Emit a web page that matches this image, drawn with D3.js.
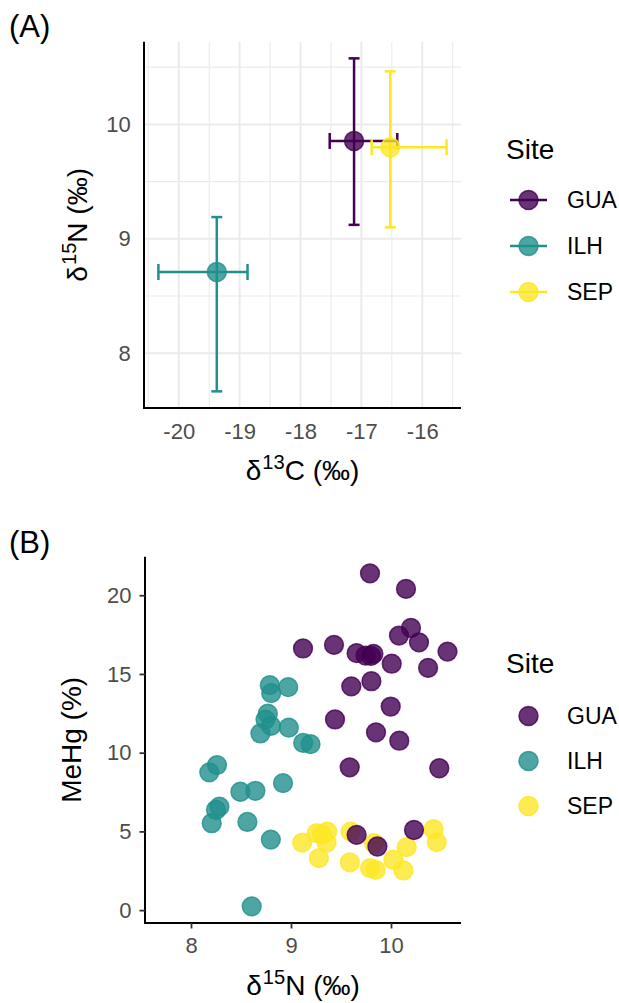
<!DOCTYPE html>
<html><head><meta charset="utf-8">
<script src="https://cdn.jsdelivr.net/npm/d3@7"></script>
<style>body{margin:0;background:#fff}svg{display:block;font-family:"Liberation Sans",Arial,sans-serif}</style>
</head><body><svg id="c" width="619" height="1003"></svg>
<script>
// ---------- DATA ----------
const sites = ["GUA", "ILH", "SEP"];
const siteColors = ["#440154", "#21908C", "#FDE725"];

// Panel A: site means with error extents
const meanC = [-17.12, -19.375, -16.525];
const meanN = [9.855, 8.71, 9.80];
const cMin = [-17.52, -20.334, -16.83];
const cMax = [-16.41, -18.87, -15.60];
const nMin = [9.122, 7.667, 9.10];
const nMax = [10.577, 9.19, 10.463];
const xTicksA = [-20, -19, -18, -17, -16];
const yTicksA = [8, 9, 10];

// Panel B: individual samples (δ15N, MeHg %)
const guaN  = [9.79, 10.15, 10.20, 10.08, 10.28, 9.12, 9.43, 10.565, 9.656, 9.746, 9.80, 9.824, 10.007, 10.371, 9.804, 9.603, 9.997, 9.44, 9.85, 10.083, 9.587, 10.483, 10.23, 9.656, 9.864];
const guaHg = [21.39, 20.40, 17.92, 17.44, 17.01, 16.62, 16.85, 16.42, 16.32, 16.17, 16.15, 16.28, 15.65, 15.39, 14.54, 14.21, 12.93, 12.11, 11.29, 10.76, 9.07, 9.01, 5.09, 4.78, 4.04];
const ilhN  = [8.788, 8.802, 8.972, 8.768, 8.745, 8.80, 8.694, 8.978, 9.122, 9.195, 8.26, 8.183, 8.494, 8.644, 8.92, 8.284, 8.25, 8.207, 8.564, 8.798, 8.607];
const ilhHg = [14.29, 13.78, 14.16, 12.48, 12.10, 11.70, 11.22, 11.59, 10.62, 10.54, 9.21, 8.75, 7.52, 7.58, 8.07, 6.57, 6.36, 5.52, 5.60, 4.48, 0.24];
const sepN  = [9.112, 9.256, 9.31, 9.363, 9.356, 9.279, 9.596, 9.589, 9.83, 9.79, 9.847, 10.024, 10.157, 10.124, 10.425, 10.458];
const sepHg = [4.29, 4.89, 4.80, 4.99, 4.29, 3.30, 4.99, 3.03, 4.25, 2.67, 2.56, 3.20, 4.00, 2.52, 5.14, 4.32];
const xLimB = [7.54, 10.70];
const xTicksB = [8, 9, 10];
const yTicksB = [0, 5, 10, 15, 20];

// ---------- DRAW ----------
const svg = d3.select("#c");
const FONT_TICK = 22, FONT_TITLE = 28;
const tickCol = "#4D4D4D";

function expand(ext, f = 0.05) { const d = (ext[1] - ext[0]) * f; return [ext[0] - d, ext[1] + d]; }

function supTitle(g, x, y, pre, sup, post, rotate) {
  const t = g.append("text").attr("font-size", FONT_TITLE).attr("fill", "#000")
    .attr("text-anchor", "middle");
  if (rotate) t.attr("transform", `translate(${x},${y}) rotate(-90)`);
  else t.attr("x", x).attr("y", y);
  t.append("tspan").text(pre);
  t.append("tspan").attr("font-size", FONT_TITLE * 0.72).attr("dy", -11.5).attr("dx", 1).text(sup);
  t.append("tspan").attr("dy", 11.5).text(post);
  return t;
}

// ===== Panel A =====
const A = { l: 144, r: 461, t: 41.7, b: 408 };
const xA = d3.scaleLinear().domain(expand([d3.min(cMin), d3.max(cMax)])).range([A.l, A.r]);
const yA = d3.scaleLinear().domain(expand([d3.min(nMin), d3.max(nMax)])).range([A.b, A.t]);
const gA = svg.append("g");

// grid
const xMinor = d3.range(-20.5, -15.4, 0.5).filter(v => !xTicksA.includes(v));
const yMinor = d3.range(7.5, 10.6, 0.5).filter(v => !yTicksA.includes(v) && yA(v) <= A.b && yA(v) >= A.t);
gA.selectAll(".vmin").data(xMinor).join("line").attr("x1", d => xA(d)).attr("x2", d => xA(d))
  .attr("y1", A.t).attr("y2", A.b).attr("stroke", "#EBEBEB").attr("stroke-width", 1.1);
gA.selectAll(".hmin").data(yMinor).join("line").attr("y1", d => yA(d)).attr("y2", d => yA(d))
  .attr("x1", A.l).attr("x2", A.r).attr("stroke", "#EBEBEB").attr("stroke-width", 1.1);
gA.selectAll(".vmaj").data(xTicksA).join("line").attr("x1", d => xA(d)).attr("x2", d => xA(d))
  .attr("y1", A.t).attr("y2", A.b).attr("stroke", "#EBEBEB").attr("stroke-width", 2);
gA.selectAll(".hmaj").data(yTicksA).join("line").attr("y1", d => yA(d)).attr("y2", d => yA(d))
  .attr("x1", A.l).attr("x2", A.r).attr("stroke", "#EBEBEB").attr("stroke-width", 2);

// axes (line only, no ticks)
const axAx = gA.append("g").attr("transform", `translate(0,${A.b})`)
  .call(d3.axisBottom(xA).tickValues(xTicksA).tickSize(0).tickPadding(15.5).tickFormat(d3.format("d")));
const axAy = gA.append("g").attr("transform", `translate(${A.l},0)`)
  .call(d3.axisLeft(yA).tickValues(yTicksA).tickSize(0).tickPadding(13.3).tickFormat(d3.format("d")));
[axAx, axAy].forEach(a => {
  a.select(".domain").attr("stroke", "#000").attr("stroke-width", 2);
  a.selectAll("text").attr("font-size", FONT_TICK).attr("fill", tickCol).attr("font-family", "Liberation Sans, Arial, sans-serif");
});
axAx.selectAll("text").text(d => d < 0 ? "-" + Math.abs(d) : d);
axAx.select(".domain").attr("d", `M${A.l - 1},0H${A.r}`);
axAy.select(".domain").attr("d", `M0,${A.t}V${A.b + 1}`);

const idx = [0, 1, 2];
const capW = 5.5, capH = 8;
idx.forEach(i => {
  const c = siteColors[i];
  const g = gA.append("g").attr("stroke", c).attr("stroke-width", 2.5).attr("fill", "none");
  g.append("line").attr("x1", xA(meanC[i])).attr("x2", xA(meanC[i])).attr("y1", yA(nMin[i])).attr("y2", yA(nMax[i]));
  g.append("line").attr("x1", xA(meanC[i]) - capW).attr("x2", xA(meanC[i]) + capW).attr("y1", yA(nMin[i])).attr("y2", yA(nMin[i]));
  g.append("line").attr("x1", xA(meanC[i]) - capW).attr("x2", xA(meanC[i]) + capW).attr("y1", yA(nMax[i])).attr("y2", yA(nMax[i]));
});
idx.forEach(i => {
  const c = siteColors[i];
  const g = gA.append("g").attr("stroke", c).attr("stroke-width", 2.5).attr("fill", "none");
  g.append("line").attr("y1", yA(meanN[i])).attr("y2", yA(meanN[i])).attr("x1", xA(cMin[i])).attr("x2", xA(cMax[i]));
  g.append("line").attr("y1", yA(meanN[i]) - capH).attr("y2", yA(meanN[i]) + capH).attr("x1", xA(cMin[i])).attr("x2", xA(cMin[i]));
  g.append("line").attr("y1", yA(meanN[i]) - capH).attr("y2", yA(meanN[i]) + capH).attr("x1", xA(cMax[i])).attr("x2", xA(cMax[i]));
});
gA.selectAll(".ptA").data(idx).join("circle")
  .attr("cx", i => xA(meanC[i])).attr("cy", i => yA(meanN[i])).attr("r", 9.5)
  .attr("fill", i => siteColors[i]).attr("fill-opacity", 0.8)
  .attr("stroke", i => siteColors[i]).attr("stroke-opacity", 0.8).attr("stroke-width", 1.5);

svg.append("text").attr("x", 9).attr("y", 37).attr("font-size", 31).text("(A)");
supTitle(svg, (A.l + A.r) / 2, 480, "δ", "13", "C (‰)", false);
supTitle(svg, 87, (A.t + A.b) / 2, "δ", "15", "N (‰)", true);

// legend A
const legA = svg.append("g");
legA.append("text").attr("x", 506).attr("y", 159).attr("font-size", 28).text("Site");
const keyYA = [200, 246, 292];
idx.forEach(i => {
  legA.append("line").attr("x1", 510).attr("x2", 547).attr("y1", keyYA[i]).attr("y2", keyYA[i])
    .attr("stroke", siteColors[i]).attr("stroke-width", 2.5);
  legA.append("circle").attr("cx", 528.5).attr("cy", keyYA[i]).attr("r", 9.5)
    .attr("fill", siteColors[i]).attr("fill-opacity", 0.8).attr("stroke", siteColors[i]).attr("stroke-opacity", 0.8).attr("stroke-width", 1.5);
  legA.append("text").attr("x", 567).attr("y", keyYA[i] + 8.3).attr("font-size", 23).text(sites[i]);
});

// ===== Panel B =====
const B = { l: 145, r: 461, t: 556.7, b: 923 };
const allHg = guaHg.concat(ilhHg, sepHg);
const xB = d3.scaleLinear().domain(xLimB).range([B.l, B.r]);
const yB = d3.scaleLinear().domain(expand(d3.extent(allHg))).range([B.b, B.t]);
const gB = svg.append("g");
const axBx = gB.append("g").attr("transform", `translate(0,${B.b})`)
  .call(d3.axisBottom(xB).tickValues(xTicksB).tickSize(5.5).tickPadding(9).tickFormat(d3.format("d")));
const axBy = gB.append("g").attr("transform", `translate(${B.l},0)`)
  .call(d3.axisLeft(yB).tickValues(yTicksB).tickSize(5.5).tickPadding(8).tickFormat(d3.format("d")));
[axBx, axBy].forEach(a => {
  a.select(".domain").attr("stroke", "#000").attr("stroke-width", 2);
  a.selectAll(".tick line").attr("stroke", "#333").attr("stroke-width", 1.8);
  a.selectAll("text").attr("font-size", FONT_TICK).attr("fill", tickCol).attr("font-family", "Liberation Sans, Arial, sans-serif");
});
axBx.select(".domain").attr("d", `M${B.l - 1},0H${B.r}`);
axBy.select(".domain").attr("d", `M0,${B.t}V${B.b + 1}`);

const seriesB = [
  { s: 2, n: sepN, hg: sepHg },
  { s: 1, n: ilhN, hg: ilhHg },
  { s: 0, n: guaN, hg: guaHg }
];
seriesB.forEach(ser => {
  gB.append("g").selectAll("circle").data(ser.n.map((v, k) => [v, ser.hg[k]])).join("circle")
    .attr("cx", d => xB(d[0])).attr("cy", d => yB(d[1])).attr("r", 9.4)
    .attr("fill", siteColors[ser.s]).attr("fill-opacity", 0.8)
    .attr("stroke", siteColors[ser.s]).attr("stroke-opacity", 0.8).attr("stroke-width", 1.5);
});

svg.append("text").attr("x", 9).attr("y", 553).attr("font-size", 31).text("(B)");
supTitle(svg, (B.l + B.r) / 2, 995, "δ", "15", "N (‰)", false);
svg.append("text").attr("transform", `translate(81,${(B.t + B.b) / 2}) rotate(-90)`)
  .attr("text-anchor", "middle").attr("font-size", FONT_TITLE).text("MeHg (%)");

// legend B
const legB = svg.append("g");
legB.append("text").attr("x", 506).attr("y", 673).attr("font-size", 28).text("Site");
const keyYB = [716, 761, 806];
idx.forEach(i => {
  legB.append("circle").attr("cx", 528.5).attr("cy", keyYB[i]).attr("r", 9.5)
    .attr("fill", siteColors[i]).attr("fill-opacity", 0.8).attr("stroke", siteColors[i]).attr("stroke-opacity", 0.8).attr("stroke-width", 1.5);
  legB.append("text").attr("x", 567).attr("y", keyYB[i] + 8.3).attr("font-size", 23).text(sites[i]);
});
</script></body></html>
